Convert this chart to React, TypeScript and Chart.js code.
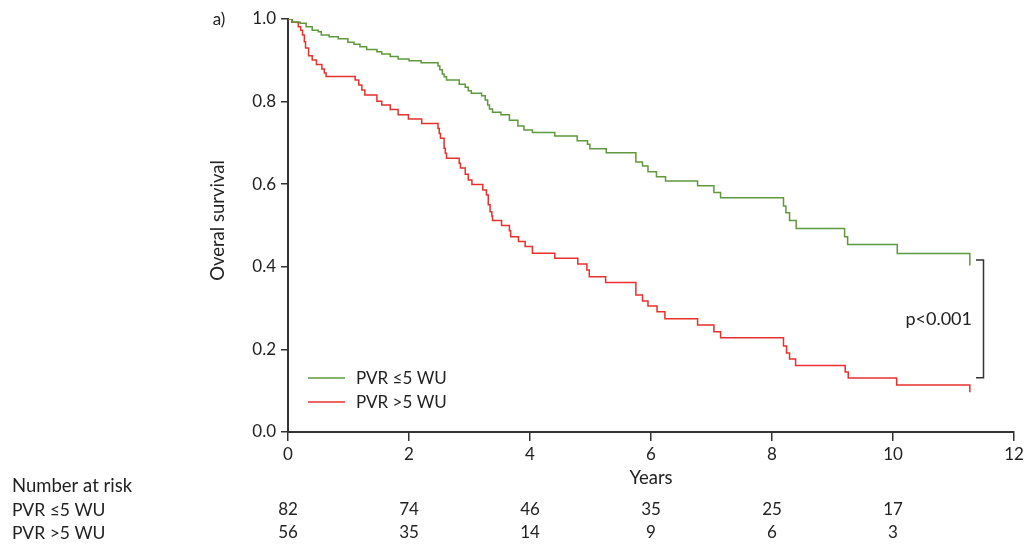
import React, { useEffect, useRef } from "react";
import { Chart, registerables } from "chart.js";

Chart.register(...registerables);

const FONT = "Lato, 'Noto Sans', sans-serif";

// Kaplan-Meier steps: time (years) at which survival drops to the given value
const lowTimes = [0, 0.07, 0.2, 0.3, 0.4, 0.5, 0.55, 0.68, 0.83, 0.99, 1.09, 1.19, 1.3, 1.47, 1.55, 1.69, 1.82, 2.0, 2.2, 2.48, 2.51, 2.55, 2.58, 2.62, 2.83, 2.93, 2.98, 3.03, 3.2, 3.26, 3.3, 3.33, 3.38, 3.52, 3.66, 3.8, 3.9, 4.04, 4.41, 4.78, 4.95, 4.99, 5.26, 5.75, 5.86, 5.95, 6.09, 6.24, 6.77, 7.04, 7.15, 8.19, 8.23, 8.29, 8.4, 9.2, 9.25, 10.07, 11.27];
const lowSurv = [1.0, 0.993, 0.99, 0.981, 0.973, 0.969, 0.961, 0.957, 0.952, 0.944, 0.939, 0.933, 0.926, 0.921, 0.915, 0.909, 0.903, 0.899, 0.894, 0.886, 0.877, 0.867, 0.86, 0.852, 0.842, 0.835, 0.826, 0.82, 0.814, 0.804, 0.792, 0.782, 0.774, 0.768, 0.755, 0.741, 0.731, 0.725, 0.717, 0.705, 0.697, 0.686, 0.676, 0.654, 0.644, 0.63, 0.618, 0.608, 0.596, 0.58, 0.567, 0.547, 0.531, 0.512, 0.493, 0.473, 0.454, 0.432, 0.403];

const highTimes = [0, 0.06, 0.17, 0.21, 0.24, 0.27, 0.29, 0.34, 0.4, 0.47, 0.56, 0.6, 0.63, 1.11, 1.17, 1.22, 1.27, 1.47, 1.55, 1.69, 1.82, 1.99, 2.21, 2.48, 2.5, 2.52, 2.58, 2.6, 2.62, 2.83, 2.85, 2.93, 2.98, 3.04, 3.22, 3.28, 3.31, 3.34, 3.37, 3.38, 3.53, 3.66, 3.68, 3.81, 3.92, 4.04, 4.41, 4.79, 4.94, 4.98, 5.25, 5.75, 5.86, 5.95, 6.1, 6.23, 6.77, 7.04, 7.15, 8.19, 8.24, 8.29, 8.39, 9.21, 9.26, 10.06, 11.27];
const highSurv = [1.0, 0.992, 0.981, 0.973, 0.961, 0.945, 0.93, 0.911, 0.901, 0.89, 0.879, 0.869, 0.861, 0.852, 0.84, 0.828, 0.816, 0.801, 0.792, 0.781, 0.768, 0.758, 0.747, 0.735, 0.723, 0.711, 0.687, 0.675, 0.663, 0.651, 0.639, 0.624, 0.61, 0.599, 0.586, 0.574, 0.55, 0.533, 0.523, 0.512, 0.5, 0.487, 0.473, 0.461, 0.449, 0.433, 0.421, 0.407, 0.392, 0.376, 0.362, 0.332, 0.317, 0.305, 0.291, 0.274, 0.259, 0.243, 0.228, 0.208, 0.191, 0.177, 0.161, 0.145, 0.131, 0.114, 0.096];

const seriesNames = ["PVR \u22645 WU", "PVR >5 WU"];
const seriesColors = ["#5e9a3c", "#e8302c"];

const riskTimes = [0, 2, 4, 6, 8, 10];
const riskLow = [82, 74, 46, 35, 25, 17];
const riskHigh = [56, 35, 14, 9, 6, 3];

const pText = "p<0.001";
const bracketTop = 0.4165;
const bracketBottom = 0.1315;

const TEXT = "#222";
const AXIS = "#333";

export default function App() {
  const ref = useRef<HTMLCanvasElement>(null);

  useEffect(() => {
    const canvas = ref.current!;
    const annot = {
      id: "annot",
      afterDraw(chart: any) {
        const ctx = chart.ctx;
        const xs = chart.scales.x;
        const ys = chart.scales.y;
        const area = chart.chartArea;
        ctx.save();
        ctx.fillStyle = TEXT;
        ctx.textBaseline = "middle";

        // panel label
        ctx.font = `17px ${FONT}`;
        ctx.textAlign = "center";
        ctx.fillText("a)", 219, 20);

        // axis titles
        ctx.font = `18.5px ${FONT}`;
        ctx.fillText("Years", (area.left + area.right) / 2, 478);
        ctx.save();
        ctx.translate(218, (area.top + area.bottom) / 2 - 5);
        ctx.rotate(-Math.PI / 2);
        ctx.fillText("Overal survival", 0, 0);
        ctx.restore();

        // risk table
        ctx.textAlign = "left";
        ctx.fillText("Number at risk", 12, 486);
        ctx.font = `17.5px ${FONT}`;
        ctx.fillText(seriesNames[0], 12, 510);
        ctx.fillText(seriesNames[1], 12, 533);
        ctx.font = `17px ${FONT}`;
        ctx.textAlign = "center";
        riskTimes.forEach((t, i) => {
          const px = xs.getPixelForValue(t);
          ctx.fillText(String(riskLow[i]), px, 510);
          ctx.fillText(String(riskHigh[i]), px, 533);
        });

        // legend
        const legY = [378, 402];
        seriesNames.forEach((n, i) => {
          ctx.strokeStyle = seriesColors[i];
          ctx.lineWidth = 1.3;
          ctx.beginPath();
          ctx.moveTo(308, legY[i]);
          ctx.lineTo(345, legY[i]);
          ctx.stroke();
          ctx.textAlign = "left";
          ctx.fillStyle = TEXT;
          ctx.fillText(n, 356, legY[i] + 1);
        });

        // bracket with p value
        const bx = 983.5;
        const by1 = ys.getPixelForValue(bracketTop);
        const by2 = ys.getPixelForValue(bracketBottom);
        ctx.strokeStyle = AXIS;
        ctx.lineWidth = 1.5;
        ctx.beginPath();
        ctx.moveTo(976, by1);
        ctx.lineTo(bx, by1);
        ctx.lineTo(bx, by2);
        ctx.lineTo(976, by2);
        ctx.stroke();
        ctx.font = `18px ${FONT}`;
        ctx.textAlign = "right";
        ctx.fillText(pText, 972, (by1 + by2) / 2);
        ctx.restore();
      },
    };

    const chart = new Chart(canvas, {
      type: "line",
      data: {
        datasets: [
          {
            label: seriesNames[0],
            data: lowTimes.map((t, i) => ({ x: t, y: lowSurv[i] })),
            borderColor: seriesColors[0],
            borderWidth: 1.5,
            pointRadius: 0,
            stepped: true,
            fill: false,
          },
          {
            label: seriesNames[1],
            data: highTimes.map((t, i) => ({ x: t, y: highSurv[i] })),
            borderColor: seriesColors[1],
            borderWidth: 1.5,
            pointRadius: 0,
            stepped: true,
            fill: false,
          },
        ],
      },
      options: {
        responsive: true,
        maintainAspectRatio: false,
        animation: false,
        events: [],
        layout: { padding: { left: 0, top: 19, right: 12, bottom: 0 } },
        plugins: { legend: { display: false }, tooltip: { enabled: false } },
        scales: {
          x: {
            type: "linear",
            min: 0,
            max: 12,
            ticks: { stepSize: 2, color: TEXT, font: { family: FONT, size: 17 }, padding: 3, maxRotation: 0 },
            grid: { drawOnChartArea: false, drawTicks: true, tickLength: 9, color: AXIS, lineWidth: 1.5 },
            border: { display: true, color: AXIS, width: 2 },
            afterFit(s: any) {
              s.height = 112;
              s.paddingLeft = 0;
              s.paddingRight = 0;
            },
          },
          y: {
            type: "linear",
            min: 0,
            max: 1,
            ticks: {
              stepSize: 0.2,
              color: TEXT,
              font: { family: FONT, size: 17 },
              padding: 5,
              callback: (v: any) => Number(v).toFixed(1),
            },
            grid: { drawOnChartArea: false, drawTicks: true, tickLength: 7, color: AXIS, lineWidth: 1.5 },
            border: { display: true, color: AXIS, width: 2 },
            afterFit(s: any) {
              s.width = 288;
              s.paddingTop = 0;
              s.paddingBottom = 0;
            },
          },
        },
      },
      plugins: [annot],
    });
    return () => chart.destroy();
  }, []);

  return (
    <div style={{ position: "absolute", left: 0, top: 0, width: 1026, height: 544 }}>
      <canvas ref={ref} />
    </div>
  );
}
